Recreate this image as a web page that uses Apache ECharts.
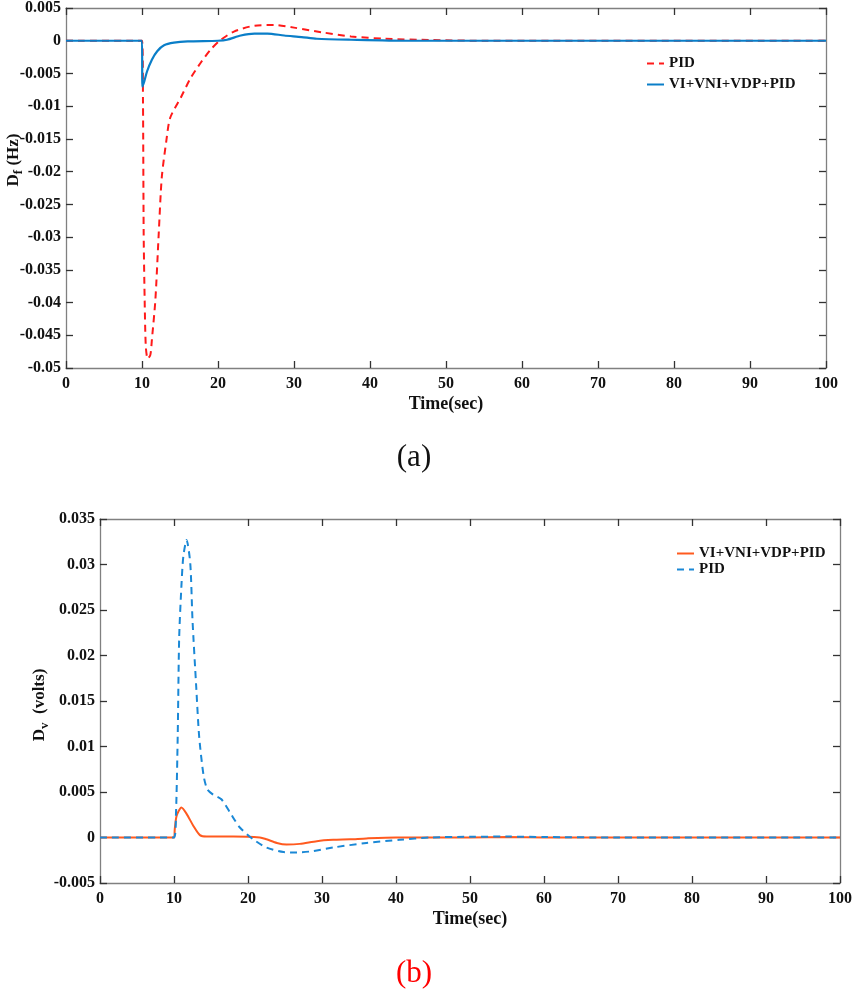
<!DOCTYPE html>
<html>
<head>
<meta charset="utf-8">
<script src="https://cdn.jsdelivr.net/npm/echarts@6/dist/echarts.min.js"></script>
<style>
html,body{margin:0;padding:0;background:#fff;}
#chart{width:858px;height:993px;}
</style>
</head>
<body>
<div id="chart"></div>
<script>
// ---- Data (a): frequency deviation ----
const timeA_PID = [0, 10, 10.13, 10.22, 10.35, 10.5, 10.75, 11.1, 11.3, 11.76, 12.2, 12.6, 13.2, 13.7, 15.1, 16.4, 17.7, 19, 20.1, 22.1, 24.8, 27.4, 30, 33.6, 37.5, 42, 48, 55, 100];
const valA_PID  = [0, 0, -0.0092, -0.0295, -0.0396, -0.0467, -0.0486, -0.048, -0.0457, -0.0396, -0.0295, -0.0209, -0.0153, -0.0118, -0.0087, -0.0057, -0.0034, -0.0014, -0.0001, 0.0014, 0.0023, 0.0024, 0.002, 0.0013, 0.00066, 0.0003, 0.0001, 0, 0];
const timeA_VI  = [0, 10, 10.05, 10.3, 10.66, 11.3, 12, 12.9, 14.2, 16, 20, 21.2, 23, 24.8, 26.5, 28.7, 31, 33, 37.5, 45, 100];
const valA_VI   = [0, 0, -0.007, -0.0062, -0.0047, -0.0029, -0.0016, -0.0007, -0.0003, -0.0001, 0, 0.00015, 0.0008, 0.0011, 0.0011, 0.0008, 0.00056, 0.0003, 0.00015, 0, 0];

// ---- Data (b): voltage deviation ----
const timeB_PID = [0, 10, 10.27, 10.5, 10.7, 11.0, 11.26, 11.7, 12.2, 12.5, 13, 13.4, 14, 14.5, 15.3, 16.4, 17.6, 18.9, 20.7, 22.5, 24.8, 26.6, 28.8, 31.5, 36, 40.5, 44.6, 50, 55, 60, 70, 100];
const valB_PID  = [0, 0, 0.0027, 0.0111, 0.022, 0.0276, 0.0309, 0.0327, 0.0301, 0.0239, 0.0166, 0.0111, 0.0068, 0.0053, 0.0047, 0.0042, 0.0027, 0.0011, -0.0002, -0.0011, -0.0016, -0.00164, -0.0015, -0.0011, -0.0006, -0.00026, 0, 0.00008, 0.0001, 0.00005, 0, 0];
const timeB_VI  = [0, 10, 10.1, 10.36, 11.0, 11.7, 12.6, 13.5, 14.4, 18, 21.6, 22.5, 23.9, 25.2, 27, 29.3, 31.5, 33.8, 36, 40, 50, 55, 60, 100];
const valB_VI   = [0, 0, 0.0009, 0.0024, 0.0033, 0.0026, 0.0013, 0.00026, 0.0001, 0.0001, 0, -0.0002, -0.0006, -0.00077, -0.0007, -0.0004, -0.00026, -0.0002, -0.0001, 0, 0, 0.00005, 0, 0];

// ---- Labels ----
const nameA_PID = 'PID';
const nameA_VI = 'VI+VNI+VDP+PID';
const nameB_VI = 'VI+VNI+VDP+PID';
const nameB_PID = 'PID';
const xTitle = 'Time(sec)';

const zip = (t, v) => t.map((x, i) => [x, v[i]]);
const FONT = 'Liberation Serif, Times New Roman, serif';
const fmt = v => String(+v.toFixed(4));

function axesFor(gridIndex, ymin, ymax, yint) {
  const lineCol = '#808080', tickCol = '#333';
  const base = {
    gridIndex,
    axisLine: {show: true, onZero: false, lineStyle: {color: lineCol, width: 1.3}},
    axisTick: {show: true, inside: true, length: 7, lineStyle: {color: tickCol, width: 1.3}},
    splitLine: {show: false}
  };
  const label = {fontFamily: FONT, fontWeight: 'bold', fontSize: 16, color: '#111'};
  const x = [
    Object.assign({}, base, {type: 'value', position: 'bottom', min: 0, max: 100, interval: 10,
      axisLabel: Object.assign({margin: 8, formatter: fmt}, label),
      name: xTitle, nameLocation: 'middle', nameGap: 27,
      nameTextStyle: {fontFamily: FONT, fontWeight: 'bold', fontSize: 18, color: '#111'}}),
    Object.assign({}, base, {type: 'value', position: 'top', min: 0, max: 100, interval: 10, axisLabel: {show: false}})
  ];
  const y = [
    Object.assign({}, base, {type: 'value', position: 'left', min: ymin, max: ymax, interval: yint,
      axisLabel: Object.assign({margin: 5, formatter: fmt}, label)}),
    Object.assign({}, base, {type: 'value', position: 'right', min: ymin, max: ymax, interval: yint, axisLabel: {show: false}})
  ];
  return {x, y};
}

const A = axesFor(0, -0.05, 0.005, 0.005);
const B = axesFor(1, -0.005, 0.035, 0.005);

const chart = echarts.init(document.getElementById('chart'), null, {renderer: 'canvas'});
const legendText = {fontFamily: FONT, fontWeight: 'bold', fontSize: 15, color: '#111'};

chart.setOption({
  backgroundColor: '#fff',
  animation: false,
  grid: [
    {left: 66, top: 6, width: 760, height: 362},
    {left: 100, top: 519, width: 740, height: 364}
  ],
  xAxis: [A.x[0], A.x[1], B.x[0], B.x[1]],
  yAxis: [A.y[0], A.y[1], B.y[0], B.y[1]],
  legend: [
    {orient: 'vertical', left: 646, top: 56, itemWidth: 17, itemHeight: 10, itemGap: 6,
      itemStyle: {opacity: 0},
      data: ['a:' + nameA_PID, 'a:' + nameA_VI], formatter: n => n.slice(2), textStyle: legendText,
      padding: 0, selectedMode: false},
    {orient: 'vertical', left: 676, top: 546, itemWidth: 17, itemHeight: 10, itemGap: 1,
      itemStyle: {opacity: 0},
      data: ['b:' + nameB_VI, 'b:' + nameB_PID], formatter: n => n.slice(2), textStyle: legendText,
      padding: 0, selectedMode: false}
  ],
  series: [
    {name: 'a:' + nameA_PID, type: 'line', xAxisIndex: 0, yAxisIndex: 0, symbol: 'none', smooth: 0.25,
      data: zip(timeA_PID, valA_PID), lineStyle: {color: '#ff1a1a', width: 2, type: [7, 5]}, itemStyle: {color: '#ff1a1a'}},
    {name: 'a:' + nameA_VI, type: 'line', xAxisIndex: 0, yAxisIndex: 0, symbol: 'none', smooth: 0.25,
      data: zip(timeA_VI, valA_VI), lineStyle: {color: '#0a7ec8', width: 2.2}, itemStyle: {color: '#0a7ec8'}},
    {name: 'b:' + nameB_VI, type: 'line', xAxisIndex: 2, yAxisIndex: 2, symbol: 'none', smooth: 0.25,
      data: zip(timeB_VI, valB_VI), lineStyle: {color: '#ff5a1f', width: 2}, itemStyle: {color: '#ff5a1f'}},
    {name: 'b:' + nameB_PID, type: 'line', xAxisIndex: 2, yAxisIndex: 2, symbol: 'none', smooth: 0.25,
      data: zip(timeB_PID, valB_PID), lineStyle: {color: '#1a88d6', width: 2, type: [7, 5]}, itemStyle: {color: '#1a88d6'}}
  ],
  graphic: [
    {type: 'text', x: 14, y: 160, rotation: Math.PI / 2,
      style: {text: '{a|D}{s|f}{a| (Hz)}', align: 'center', verticalAlign: 'middle',
        rich: {a: {fontFamily: FONT, fontWeight: 'bold', fontSize: 17, fill: '#111'},
               s: {fontFamily: FONT, fontWeight: 'bold', fontSize: 13, fill: '#111', padding: [9, 0, 0, 0]}}}},
    {type: 'text', x: 40, y: 705, rotation: Math.PI / 2,
      style: {text: '{a|D}{s|v}{a|  (volts)}', align: 'center', verticalAlign: 'middle',
        rich: {a: {fontFamily: FONT, fontWeight: 'bold', fontSize: 17, fill: '#111'},
               s: {fontFamily: FONT, fontWeight: 'bold', fontSize: 13, fill: '#111', padding: [9, 0, 0, 0]}}}},
    {type: 'text', x: 414, y: 458,
      style: {text: '(a)', align: 'center', verticalAlign: 'middle', font: '31px ' + FONT, fill: '#111'}},
    {type: 'text', x: 414, y: 974,
      style: {text: '(b)', align: 'center', verticalAlign: 'middle', font: '31px ' + FONT, fill: '#ff0000'}}
  ]
});
</script>
</body>
</html>
